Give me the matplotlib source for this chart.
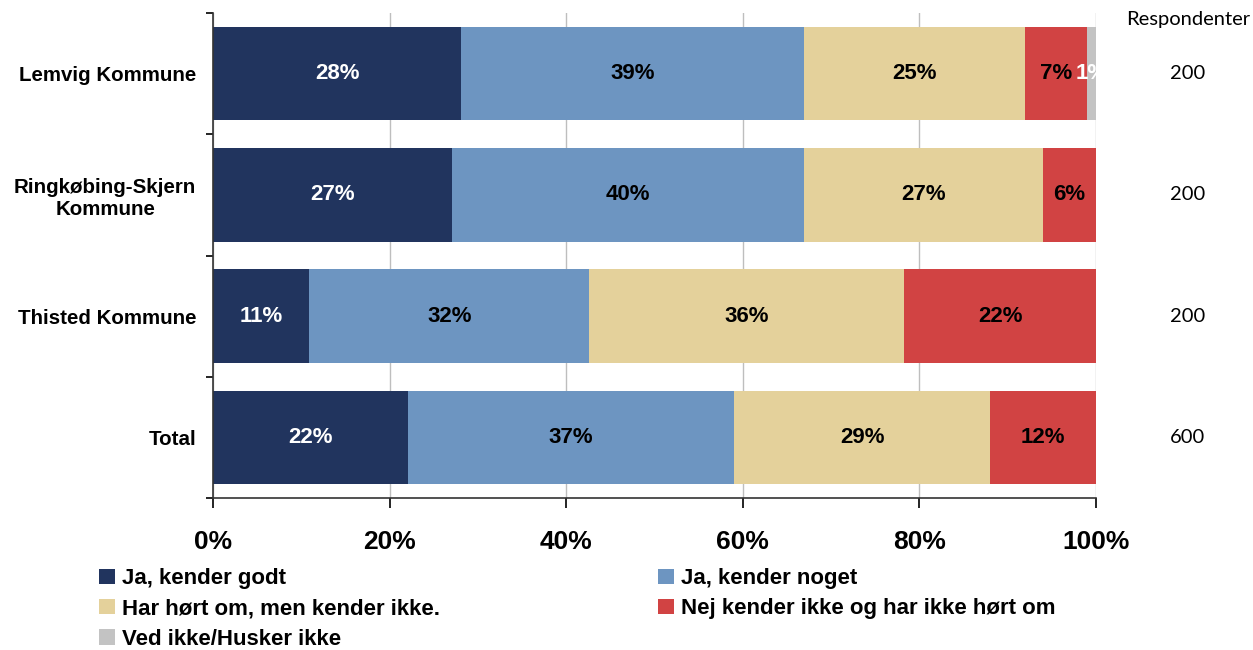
import numpy as np
import matplotlib
matplotlib.use("Agg")
import matplotlib.pyplot as plt
from matplotlib.transforms import blended_transform_factory

# data (percent of respondents)
categories = ["Lemvig Kommune", "Ringkøbing-Skjern\nKommune", "Thisted Kommune", "Total"]
series_names = ["Ja, kender godt", "Ja, kender noget", "Har hørt om, men kender ikke.",
                "Nej kender ikke og har ikke hørt om", "Ved ikke/Husker ikke"]
ja_godt = [28.1, 27.1, 10.9, 22.1]
ja_noget = [38.8, 39.8, 31.7, 36.9]
hoert_om = [25.1, 27.1, 35.7, 29.0]
nej = [7.0, 6.0, 21.7, 12.0]
ved_ikke = [1.0, 0.0, 0.0, 0.0]
respondenter = [200, 200, 200, 600]
x_ticks = [0, 20, 40, 60, 80, 100]

colors = ["#21345E", "#6D95C1", "#E4D19B", "#D14343", "#C3C3C3"]
label_colors = ["white", "black", "black", "black", "white"]

plt.rcParams['font.family'] = ['Liberation Sans', 'DejaVu Sans']

fig = plt.figure(figsize=(12.53, 6.5), dpi=100)
ax = fig.add_axes([0.17, 0.2338, 0.7047, 0.7462])

y = np.arange(len(categories))
left = np.zeros(len(categories))
handles = []
for vals, name, col, lcol in zip([ja_godt, ja_noget, hoert_om, nej, ved_ikke],
                                 series_names, colors, label_colors):
    vals = np.array(vals)
    h = ax.barh(y, vals, left=left, height=0.77, color=col, label=name, zorder=2)
    handles.append(h)
    for yi, (l, v) in enumerate(zip(left, vals)):
        if v > 0.5:
            ax.text(l + v / 2, yi, f"{v:.0f}%", ha="center", va="center",
                    color=lcol, fontsize=16, fontweight="bold", zorder=3)
    left = left + vals

ax.set_xlim(0, 100)
ax.set_ylim(3.5, -0.5)

ax.set_xticks(x_ticks)
ax.set_xticklabels([f"{t}%" for t in x_ticks], fontsize=19, fontweight="bold")
ax.xaxis.grid(True, color="#BEBEBE", linewidth=1, zorder=0)
ax.tick_params(axis="x", direction="out", length=7, width=1.2, pad=16)

ax.set_yticks(y)
ax.set_yticklabels(categories, fontsize=14.8, fontweight="bold")
for lab in ax.get_yticklabels():
    lab.set_multialignment("center")
ax.set_yticks(np.arange(-0.5, 4.0, 1.0), minor=True)
ax.tick_params(axis="y", which="major", length=0, pad=12)
ax.tick_params(axis="y", which="minor", direction="out", length=5, width=1.2)

for s in ["top", "right"]:
    ax.spines[s].set_visible(False)
for s in ["left", "bottom"]:
    ax.spines[s].set_color("#333333")
    ax.spines[s].set_linewidth(1.2)

# respondent counts on the right
tr = blended_transform_factory(fig.transFigure, ax.transData)
fig.text(0.948, 0.97, "Respondenter", ha="center", va="center",
         fontsize=14.5, family=["Lato", "DejaVu Sans"])
for yi, n in enumerate(respondenter):
    ax.text(0.948, yi, str(n), transform=tr, ha="center", va="center",
            fontsize=14.5, family=["Lato", "DejaVu Sans"])

order = [0, 2, 4, 1, 3]
fig.legend([handles[i] for i in order], [series_names[i] for i in order],
           loc="upper left", bbox_to_anchor=(0.079, 0.126), ncol=2, frameon=False,
           prop={"weight": "bold", "size": 16}, handlelength=0.7, handleheight=0.7,
           handletextpad=0.35, labelspacing=0.42, columnspacing=9.8, borderpad=0,
           borderaxespad=0)

plt.savefig("out.png", dpi=100)
plt.close()
